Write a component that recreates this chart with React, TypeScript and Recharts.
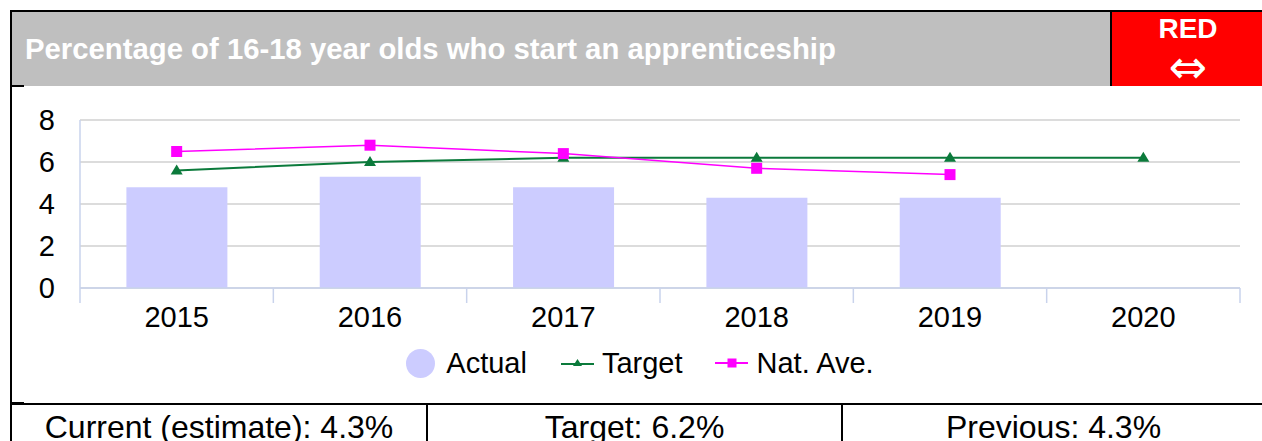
import React from 'react';
import { ComposedChart, Bar, Line, XAxis, YAxis, CartesianGrid, Legend } from 'recharts';

const years = ['2015', '2016', '2017', '2018', '2019', '2020'];
const actual = [4.8, 5.3, 4.8, 4.3, 4.3, null];
const target = [5.6, 6.0, 6.2, 6.2, 6.2, 6.2];
const natAve = [6.5, 6.8, 6.4, 5.7, 5.4, null];
const yTicks = [0, 2, 4, 6, 8];
const seriesNames = ['Actual', 'Target', 'Nat. Ave.'];
const titleText = 'Percentage of 16-18 year olds who start an apprenticeship';
const ragText = 'RED';
const trendSymbol = '\u21D4';
const summaryLabels = ['Current (estimate): 4.3%', 'Target: 6.2%', 'Previous: 4.3%'];

const data = years.map((y, i) => ({ year: y, actual: actual[i], target: target[i], natAve: natAve[i] }));

const FONT = '"Liberation Sans", Arial, Helvetica, sans-serif';
const GREEN = '#0B7A3B';
const MAGENTA = '#FF00FF';
const BAR = '#CCCCFF';
const AXIS = '#C9D3EC';
const GRID = '#D0D0D0';

const TriangleDot = (props: any) => {
  const { cx, cy, index } = props;
  if (cx == null || cy == null) return <g key={index} />;
  return <path key={index} d={`M${cx},${cy - 6}L${cx + 6},${cy + 4}L${cx - 6},${cy + 4}Z`} fill={GREEN} />;
};

const SquareDot = (props: any) => {
  const { cx, cy, index } = props;
  if (cx == null || cy == null) return <g key={index} />;
  return <rect key={index} x={cx - 5.5} y={cy - 5.5} width={11} height={11} fill={MAGENTA} />;
};

// Category label plus the boundary tick marks of its band (derived from the axis width / tick count)
const CategoryTick = (props: any) => {
  const { x, y, payload, width, visibleTicksCount, index } = props;
  const band = width / (visibleTicksCount || years.length);
  const axisY = y - 18;
  const left = x - band / 2;
  const right = x + band / 2;
  const isLast = index === (visibleTicksCount || years.length) - 1;
  return (
    <g>
      <line x1={left} y1={axisY} x2={left} y2={axisY + 15} stroke={AXIS} strokeWidth={1.5} />
      {isLast && <line x1={right} y1={axisY} x2={right} y2={axisY + 15} stroke={AXIS} strokeWidth={1.5} />}
      <text x={x} y={y} dy="0.71em" textAnchor="middle" fill="#000" fontSize={29} fontFamily={FONT}>
        {payload.value}
      </text>
    </g>
  );
};

const LegendContent = () => (
  <div
    style={{
      display: 'flex',
      justifyContent: 'center',
      alignItems: 'center',
      width: 1262,
      paddingLeft: 18,
      boxSizing: 'border-box',
      height: 30,
      fontFamily: FONT,
      fontSize: 29,
      color: '#000',
    }}
  >
    <span style={{ display: 'inline-block', width: 29, height: 29, borderRadius: '50%', background: BAR, marginRight: 11 }} />
    <span style={{ marginRight: 34 }}>{seriesNames[0]}</span>
    <svg width={33} height={14} style={{ marginRight: 8 }}>
      <line x1={0} y1={8} x2={33} y2={8} stroke={GREEN} strokeWidth={2} />
      <path d="M16.5,3L21,10L12,10Z" fill={GREEN} />
    </svg>
    <span style={{ marginRight: 32 }}>{seriesNames[1]}</span>
    <svg width={33} height={14} style={{ marginRight: 9 }}>
      <line x1={0} y1={7} x2={33} y2={7} stroke={MAGENTA} strokeWidth={2} />
      <rect x={12.5} y={2.5} width={9} height={9} fill={MAGENTA} />
    </svg>
    <span>{seriesNames[2]}</span>
  </div>
);

const black = '#000';

export default function App() {
  return (
    <div style={{ position: 'fixed', left: 0, top: 0, width: 1262, height: 441, overflow: 'hidden', background: '#fff', fontFamily: FONT }}>
      {/* header */}
      <div style={{ position: 'absolute', left: 10, top: 10, width: 1260, height: 2, background: black }} />
      <div style={{ position: 'absolute', left: 10, top: 10, width: 2, height: 431, background: black }} />
      <div style={{ position: 'absolute', left: 12, top: 12, width: 1098, height: 74, background: '#BFBFBF' }} />
      <div style={{ position: 'absolute', left: 1110, top: 12, width: 2, height: 74, background: black }} />
      <div style={{ position: 'absolute', left: 1112, top: 12, width: 152, height: 74, background: '#FF0000' }} />
      <div
        style={{
          position: 'absolute',
          left: 25,
          top: 30,
          fontSize: 29.3,
          lineHeight: '38px',
          fontWeight: 700,
          color: '#fff',
          whiteSpace: 'nowrap',
        }}
      >
        {titleText}
      </div>
      <div
        style={{
          position: 'absolute',
          left: 1112,
          width: 152,
          top: 15,
          height: 28,
          textAlign: 'center',
          fontSize: 28,
          lineHeight: '28px',
          fontWeight: 700,
          color: '#fff',
        }}
      >
        {ragText}
      </div>
      <div
        style={{
          position: 'absolute',
          left: 1112,
          width: 152,
          top: 47,
          textAlign: 'center',
          fontSize: 46,
          lineHeight: '40px',
          height: 40,
          fontFamily: '"DejaVu Sans", sans-serif',
          color: '#fff',
        }}
      >
        {trendSymbol}
      </div>
      <div style={{ position: 'absolute', left: 10, top: 85, width: 14, height: 2, background: black }} />

      {/* chart */}
      <div style={{ position: 'absolute', left: 0, top: 86 }}>
        <ComposedChart width={1262} height={318} data={data} margin={{ top: 34, right: 22, bottom: 26, left: 0 }} barCategoryGap="24%">
          <CartesianGrid horizontal vertical={false} stroke={GRID} strokeWidth={1.5} />
          <XAxis
            dataKey="year"
            type="category"
            axisLine={{ stroke: AXIS, strokeWidth: 1.5 }}
            tickLine={false}
            tickSize={0}
            tickMargin={18}
            height={60}
            tick={CategoryTick}
            interval={0}
          />
          <YAxis
            domain={[0, 8]}
            ticks={yTicks}
            width={80}
            tickSize={0}
            tickMargin={25}
            axisLine={{ stroke: AXIS, strokeWidth: 1.5 }}
            tickLine={false}
            tick={{ fill: '#000', fontSize: 29, fontFamily: FONT }}
            interval={0}
          />
          <YAxis
            yAxisId="right"
            orientation="right"
            domain={[0, 8]}
            width={0}
            tick={false}
            tickLine={false}
            axisLine={{ stroke: AXIS, strokeWidth: 1.5 }}
          />
          <Legend verticalAlign="bottom" height={30} content={() => <LegendContent />} wrapperStyle={{ left: 0, width: 1262 }} />
          <Bar dataKey="actual" name={seriesNames[0]} fill={BAR} isAnimationActive={false} />
          <Line
            dataKey="target"
            name={seriesNames[1]}
            stroke={GREEN}
            strokeWidth={2}
            dot={TriangleDot}
            activeDot={false}
            isAnimationActive={false}
          />
          <Line
            dataKey="natAve"
            name={seriesNames[2]}
            stroke={MAGENTA}
            strokeWidth={1.5}
            dot={SquareDot}
            activeDot={false}
            isAnimationActive={false}
          />
        </ComposedChart>
      </div>

      {/* summary table */}
      <div style={{ position: 'absolute', left: 10, top: 403, width: 1260, height: 2, background: black }} />
      <div style={{ position: 'absolute', left: 10, top: 402, width: 14, height: 3, background: black }} />
      <div style={{ position: 'absolute', left: 426, top: 404, width: 2, height: 40, background: black }} />
      <div style={{ position: 'absolute', left: 841, top: 404, width: 2, height: 40, background: black }} />
      {summaryLabels.map((s, i) => {
        const lefts = [12, 428, 843];
        const widths = [414, 413, 421];
        return (
          <div
            key={s}
            style={{
              position: 'absolute',
              left: lefts[i],
              width: widths[i],
              top: 409,
              textAlign: 'center',
              fontSize: 32,
              lineHeight: '36px',
              color: '#000',
              whiteSpace: 'nowrap',
            }}
          >
            {s}
          </div>
        );
      })}
    </div>
  );
}
